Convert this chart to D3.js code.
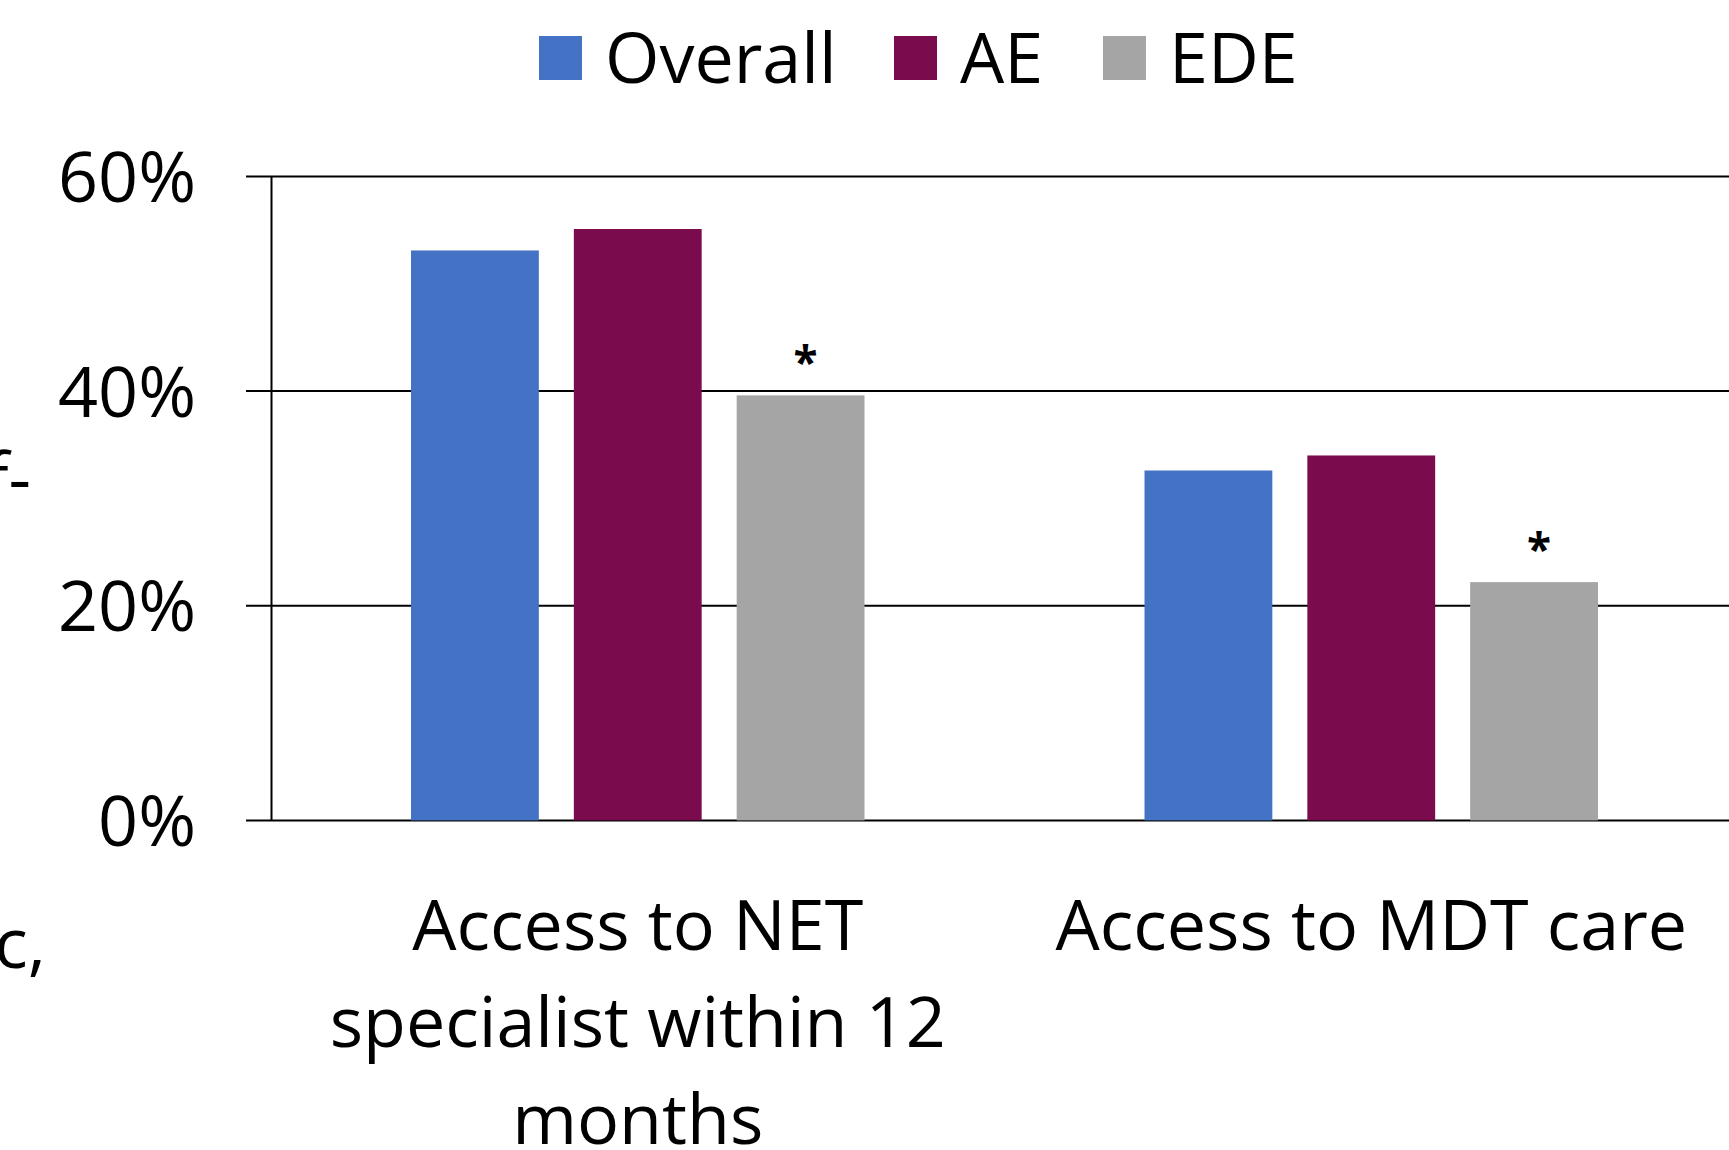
<!DOCTYPE html>
<html>
<head>
<meta charset="utf-8">
<script src="https://cdn.jsdelivr.net/npm/d3@7"></script>
<style>
    html, body { margin: 0; padding: 0; background: #fff; overflow: hidden; }
    svg text { font-family: "Open Sans", "Noto Sans", sans-serif; fill: #000; }
</style>
</head>
<body>
<div id="graph"></div>
<script>
// chart data
var categories = ["Access to NET specialist within 12 months", "Access to MDT care"];
var categoryLines = [["Access to NET", "specialist within 12", "months"], ["Access to MDT care"]];
var seriesNames = ["Overall", "AE", "EDE"];
var overallValues = [53.1, 32.6];
var aeValues = [55.1, 34.0];
var edeValues = [39.6, 22.2];
var edeSignificant = [true, true];
var yTicks = [0, 20, 40, 60];

var colors = { "Overall": "#4472c4", "AE": "#7a0c4e", "EDE": "#a5a5a5" };

var width = 1729, height = 1150;
var margin = { top: 176.4, left: 271, bottom: 329.6 };
var plotRight = 1738;
var y0 = height - margin.bottom;

var svg = d3.select("#graph").append("svg")
    .attr("width", width)
    .attr("height", height);

var table = categories.map(function(c, i) {
    return {
        key: c,
        lines: categoryLines[i],
        values: [
            { name: "Overall", value: overallValues[i] },
            { name: "AE", value: aeValues[i] },
            { name: "EDE", value: edeValues[i], star: edeSignificant[i] }
        ]
    };
});

var x = d3.scaleBand()
    .domain(categories)
    .range([margin.left, plotRight]);

var xs = d3.scaleBand()
    .domain(seriesNames)
    .range([140, x.bandwidth() - 140])
    .paddingInner(0.215);

var y = d3.scaleLinear()
    .domain([0, 60])
    .range([y0, margin.top]);

// gridlines
svg.append("g")
    .selectAll("line")
    .data(yTicks)
    .enter()
    .append("line")
    .attr("x1", margin.left - 25)
    .attr("x2", width)
    .attr("y1", function(d) { return y(d); })
    .attr("y2", function(d) { return y(d); })
    .attr("stroke", "#000")
    .attr("stroke-width", 2);

// y axis
var yAxis = d3.axisLeft(y)
    .tickValues(yTicks)
    .tickSize(0)
    .tickPadding(75)
    .tickFormat(function(d) { return d + "%"; });

var gY = svg.append("g")
    .attr("transform", "translate(" + margin.left + ",0)")
    .call(yAxis);
gY.select(".domain").attr("stroke", "#000").attr("stroke-width", 2);
gY.selectAll("text")
    .style("font-size", "70px")
    .attr("dy", "0.36em");

// bars
var groups = svg.append("g")
    .selectAll("g")
    .data(table)
    .enter()
    .append("g")
    .attr("transform", function(d) { return "translate(" + x(d.key) + ",0)"; });

groups.selectAll("rect")
    .data(function(d) { return d.values; })
    .enter()
    .append("rect")
    .attr("x", function(d) { return xs(d.name); })
    .attr("width", xs.bandwidth())
    .attr("y", function(d) { return y(d.value); })
    .attr("height", function(d) { return y0 - y(d.value); })
    .attr("fill", function(d) { return colors[d.name]; });

groups.selectAll("text.star")
    .data(function(d) { return d.values.filter(function(v) { return v.star; }); })
    .enter()
    .append("text")
    .attr("class", "star")
    .attr("x", function(d) { return xs(d.name) + xs.bandwidth() / 2 + 5; })
    .attr("y", function(d) { return y(d.value) - 17; })
    .attr("text-anchor", "middle")
    .style("font-size", "44px")
    .style("font-weight", "bold")
    .text("*");

// category labels
groups.append("text")
    .attr("text-anchor", "middle")
    .style("font-size", "70px")
    .selectAll("tspan")
    .data(function(d) { return d.lines; })
    .enter()
    .append("tspan")
    .attr("x", x.bandwidth() / 2)
    .attr("y", function(d, i) { return 950 + i * 97; })
    .text(function(d) { return d; });

// legend
var legendX = [539, 894, 1103];
var legend = svg.append("g")
    .selectAll("g")
    .data(seriesNames)
    .enter()
    .append("g")
    .attr("transform", function(d, i) { return "translate(" + legendX[i] + ",36)"; });

legend.append("rect")
    .attr("width", 43)
    .attr("height", 44)
    .attr("fill", function(d) { return colors[d]; });

legend.append("text")
    .attr("x", 66)
    .attr("y", 47)
    .style("font-size", "70px")
    .text(function(d) { return d; });

// clipped text fragments at the left edge
svg.append("text")
    .attr("x", 31)
    .attr("y", 503)
    .attr("text-anchor", "end")
    .style("font-size", "70px")
    .text("f-");

svg.append("text")
    .attr("x", 46)
    .attr("y", 968)
    .attr("text-anchor", "end")
    .style("font-size", "70px")
    .text("c,");
</script>
</body>
</html>
